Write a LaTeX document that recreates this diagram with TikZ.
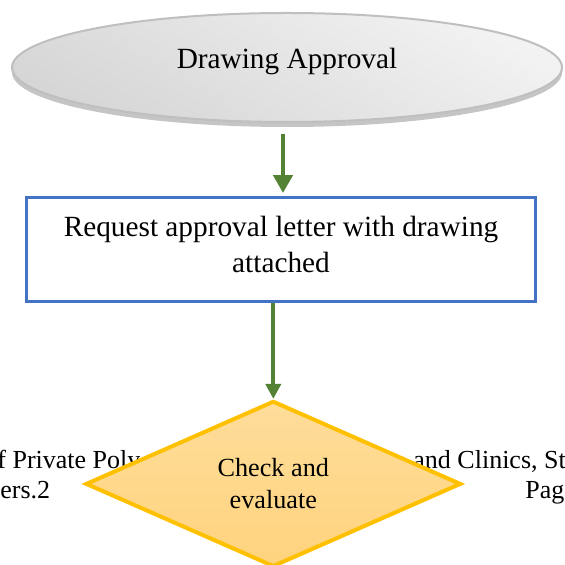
\documentclass[tikz,border=0pt]{standalone}
\usepackage{fontspec}
\setmainfont{Liberation Serif}
\usetikzlibrary{shapes.geometric, arrows.meta, shadows}
\definecolor{flowgreen}{HTML}{548235}
\definecolor{boxblue}{HTML}{4472C4}
\definecolor{decgold}{HTML}{FFC000}
\definecolor{dectop}{HTML}{FEDD9A}
\definecolor{decbot}{HTML}{FFD37E}
\tikzstyle{term}=[ellipse, draw=black!25, line width=1pt, top color=black!5, bottom color=black!16, shading angle=-30, drop shadow={shadow xshift=0pt, shadow yshift=-2.5pt, fill=black!45, opacity=0.5}, minimum width=275pt, minimum height=54.5pt, inner sep=0pt, text depth=8.8pt, font=\fontsize{14.65pt}{18.35pt}\selectfont]
\tikzstyle{proc}=[rectangle, draw=boxblue, line width=1.5pt, fill=white, minimum width=254.8pt, minimum height=51.75pt, align=center, font=\fontsize{14.65pt}{18.35pt}\selectfont]
\tikzstyle{dec}=[diamond, aspect=2.25, draw=decgold, line width=2pt, top color=dectop, bottom color=decbot, minimum width=187.7pt, minimum height=83pt, inner sep=0pt, align=center, font=\fontsize{13.1pt}{16pt}\selectfont]
\tikzstyle{flowline}=[draw=flowgreen, line width=2.2pt]
\tikzstyle{foot}=[anchor=base west, inner sep=0pt, font=\fontsize{13pt}{15pt}\selectfont]

\begin{document}
\begin{tikzpicture}[x=0.5pt,y=-0.5pt,>={Triangle[width=9.5pt,length=9pt]}]
  \useasboundingbox (0,0) rectangle (564,565);
  \node [foot] (f1) at (-3,468) {f Private Poly};
  \node [foot] (f2) at (0,498) {ers.2};
  \node [foot] (f3) at (413,468) {and Clinics, St};
  \node [foot] (f4) at (525,498) {Pag};
  \node [term] (apr) at (287,67.5) {Drawing Approval};
  \node [proc] (req) [below of=apr, node distance=91pt, xshift=-3pt] {Request approval letter with drawing\\attached\rule[-.35em]{0pt}{0pt}};
  \node [dec] (chk) [below of=req, node distance=117.2pt, xshift=-3.85pt] {Check and\\evaluate};
  \draw[flowline, ->, shorten <=5.5pt, shorten >=1.6pt] ([xshift=-2pt]apr.south) -- ([xshift=-2pt]apr.south |- req.north);
  \draw[flowline, -{Triangle[width=7.5pt,length=7.5pt]}, line width=2pt] (req.south -| chk.north) -- (chk.north);
\end{tikzpicture}
\end{document}
